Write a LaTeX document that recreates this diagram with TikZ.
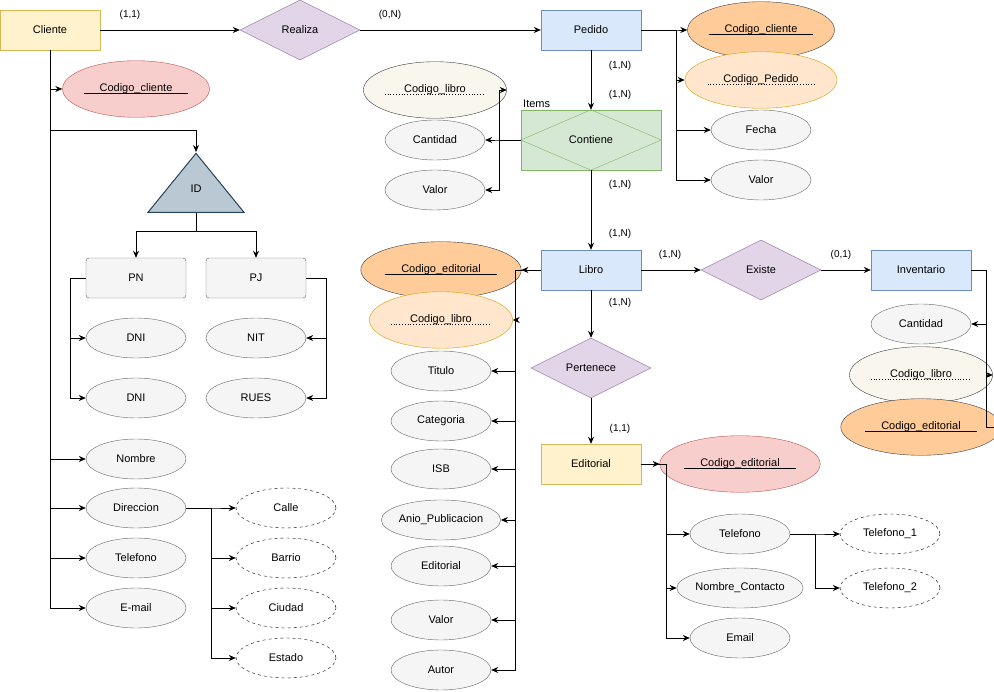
\documentclass[tikz,border=0pt]{standalone}
\usepackage{fontspec}
\setmainfont{Liberation Sans}
\usetikzlibrary{shapes.geometric,arrows.meta}
\newcommand{\myul}[1]{\tikz[baseline=(t.base)]{\node[inner sep=0](t){#1};\draw[line width=0.6pt]([yshift=-1.5pt]t.base west)--([yshift=-1.5pt]t.base east);}}
\newcommand{\mydul}[1]{\tikz[baseline=(t.base)]{\node[inner sep=0](t){#1};\draw[line width=0.8pt,dotted]([yshift=-2pt]t.base west)--([yshift=-2pt]t.base east);}}
\definecolor{yf}{HTML}{FFF2CC}\definecolor{yd}{HTML}{D6B656}
\definecolor{pf}{HTML}{E1D5E7}\definecolor{pd}{HTML}{9673A6}
\definecolor{bf}{HTML}{DAE8FC}\definecolor{bd}{HTML}{6C8EBF}
\definecolor{gf}{HTML}{F5F5F5}\definecolor{gd}{HTML}{666666}
\definecolor{of}{HTML}{FFCC99}\definecolor{od}{HTML}{36393D}
\definecolor{lf}{HTML}{FFE6CC}\definecolor{ld}{HTML}{D79B00}
\definecolor{cf}{HTML}{F9F7ED}
\definecolor{rf}{HTML}{F8CECC}\definecolor{rd}{HTML}{B85450}
\definecolor{nf}{HTML}{D5E8D4}\definecolor{nd}{HTML}{82B366}
\definecolor{tf}{HTML}{BAC8D3}\definecolor{td}{HTML}{23445D}
\begin{document}
\begin{tikzpicture}[x=1pt,y=-1pt,font=\fontsize{11}{13}\selectfont,
 arr/.style={-{Stealth[length=7pt,width=6pt]},line width=0.8pt},
 ent/.style={draw=yd,fill=yf,minimum width=100pt,minimum height=40pt,inner sep=0},
 went/.style={draw=bd,fill=bf,minimum width=100pt,minimum height=40pt,inner sep=0,
   append after command={\pgfextra{\draw[bd] ([shift={(5pt,5pt)}]\tikzlastnode.south west) rectangle ([shift={(-5pt,-5pt)}]\tikzlastnode.north east);}}},
 rel/.style={diamond,aspect=2,draw=pd,fill=pf,minimum width=120pt,minimum height=60pt,inner sep=0},
 attr/.style={ellipse,draw=gd,fill=gf,minimum width=100pt,minimum height=40pt,inner sep=0},
 ok/.style={attr,draw=od,fill=of},
 lk/.style={attr,draw=ld,fill=lf},
 ck/.style={attr,draw=od,fill=cf},
 rk/.style={attr,draw=rd,fill=rf},
 da/.style={attr,draw=black,fill=white,dashed},
 gr/.style={draw=gd,fill=gf,rounded corners=3pt,minimum width=100pt,minimum height=40pt,inner sep=0},
 lb/.style={font=\fontsize{10}{12}\selectfont}]
\useasboundingbox (0,0) rectangle (994,692);
\node[ent] (cl) at (50,30) {Cliente};
\node[rel] (re) at (300,30) {Realiza};
\node[went] (pe) at (591,30) {Pedido};
\node[ok] (pcc) at (761,30) {\myul{Codigo\_cliente}};
\node[lk] (pcp) at (761,80) {\mydul{Codigo\_Pedido}};
\node[attr] (pfe) at (761,130) {Fecha};
\node[attr] (pva) at (761,180) {Valor};
\node[draw=nd,fill=nf,minimum width=140pt,minimum height=60pt,inner sep=0] (co) at (591,140) {};
\draw[nd] (co.west) -- (co.north) -- (co.east) -- (co.south) -- cycle;
\node (cot) at (591,140) {Contiene};
\node[anchor=south west,inner sep=0] (it) at (523,108) {Items};
\node[ck] (ccl) at (435,90) {\mydul{Codigo\_libro}};
\node[attr] (cca) at (435,140) {Cantidad};
\node[attr] (cva) at (435,190) {Valor};
\node[went] (li) at (591,270) {Libro};
\node[rel] (ex) at (761,270) {Existe};
\node[went] (in) at (921,270) {Inventario};
\node[attr] (ica) at (921,324) {Cantidad};
\node[ck] (icl) at (921,375) {\mydul{Codigo\_libro}};
\node[ok] (ice) at (921,427) {\myul{Codigo\_editorial}};
\node[ok] (lce) at (441,270) {\myul{Codigo\_editorial}};
\node[lk] (l1) at (441,320) {\mydul{Codigo\_libro}};
\node[attr] (l2) at (441,371) {Titulo};
\node[attr] (l3) at (441,421) {Categoria};
\node[attr] (l4) at (441,469) {ISB};
\node[attr] (l5) at (441,520) {Anio\_Publicacion};
\node[attr] (l6) at (441,566) {Editorial};
\node[attr] (l7) at (441,620) {Valor};
\node[attr] (l8) at (441,670) {Autor};
\node[rel] (pt) at (591,368) {Pertenece};
\node[ent] (ed) at (591,464) {Editorial};
\node[rk] (ece) at (740,464) {\myul{Codigo\_editorial}};
\node[attr] (ete) at (740,534) {Telefono};
\node[attr] (enc) at (740,588) {Nombre\_Contacto};
\node[attr] (eem) at (740,638) {Email};
\node[da] (t1) at (890,534) {Telefono\_1};
\node[da] (t2) at (890,588) {Telefono\_2};
\node[rk] (ccc) at (136,89) {\myul{Codigo\_cliente}};
\node[isosceles triangle,shape border rotate=90,isosceles triangle stretches,draw=td,fill=tf,line width=1pt,minimum width=96pt,minimum height=59pt,inner sep=0] (id) at (196,189.5) {};
\node (idt) at (196,189) {ID};
\node[gr] (pn) at (136,278) {PN};
\node[gr] (pj) at (256,278) {PJ};
\node[attr] (d1) at (136,338) {DNI};
\node[attr] (d2) at (136,398) {DNI};
\node[attr] (nit) at (256,338) {NIT};
\node[attr] (ru) at (256,398) {RUES};
\node[attr] (no) at (136,459) {Nombre};
\node[attr] (di) at (136,508) {Direccion};
\node[attr] (te) at (136,558) {Telefono};
\node[attr] (em) at (136,608) {E-mail};
\node[da] (ca) at (286,508) {Calle};
\node[da] (ba) at (286,558) {Barrio};
\node[da] (ci) at (286,608) {Ciudad};
\node[da] (es) at (286,658) {Estado};
\draw[arr] (cl.east) -- (re.west);
\draw[arr] (re.east) -- (pe.west);
\node[lb] (c1) at (130,15) {(1,1)};
\node[lb] (c2) at (390,15) {(0,N)};
\foreach \t in {pcc,pcp,pfe,pva} \draw[arr] (pe.east) -- ++(35,0) |- (\t.west);
\draw[arr] (pe.south) -- (co.north);
\node[lb] (c3) at (620,66) {(1,N)};
\node[lb] (c4) at (620,95) {(1,N)};
\foreach \t in {ccl,cca,cva} \draw[arr] (co.west) -- ++(-21,0) |- (\t.east);
\draw[arr] (co.south) -- (li.north);
\node[lb] (c5) at (620,185) {(1,N)};
\node[lb] (c6) at (620,234) {(1,N)};
\draw[arr] (li.east) -- (ex.west);
\draw[arr] (ex.east) -- (in.west);
\node[lb] (c7) at (670,255) {(1,N)};
\node[lb] (c8) at (841,255) {(0,1)};
\foreach \t in {ica,icl,ice} \draw[arr] (in.east) -- ++(15,0) |- (\t.east);
\draw[arr] (li.west) -- (lce.east);
\foreach \t in {l1,l2,l3,l4,l5,l6,l7,l8} \draw[arr] (li.west) -- ++(-25,0) |- (\t.east);
\draw[arr] (li.south) -- (pt.north);
\node[lb] (c9) at (620,303) {(1,N)};
\draw[arr] (pt.south) -- (ed.north);
\node[lb] (c10) at (620,429) {(1,1)};
\draw[arr] (ed.east) -- (ece.west);
\foreach \t in {ete,enc,eem} \draw[arr] (ed.east) -- ++(25,0) |- (\t.west);
\foreach \t in {t1,t2} \draw[arr] (ete.east) -- ++(25,0) |- (\t.west);
\foreach \t in {ccc,no,di,te,em} \draw[arr] (cl.south) |- (\t.west);
\draw[arr] (cl.south) |- (196,130) -- (id.apex);
\foreach \t in {pn,pj} \draw[arr] (id.south) -- ++(0,19) -| (\t.north);
\foreach \t in {d1,d2} \draw[arr] (pn.west) -- ++(-15,0) |- (\t.west);
\foreach \t in {nit,ru} \draw[arr] (pj.east) -- ++(20,0) |- (\t.east);
\foreach \t in {ca,ba,ci,es} \draw[arr] (di.east) -- ++(25,0) |- (\t.west);
\end{tikzpicture}
\end{document}
